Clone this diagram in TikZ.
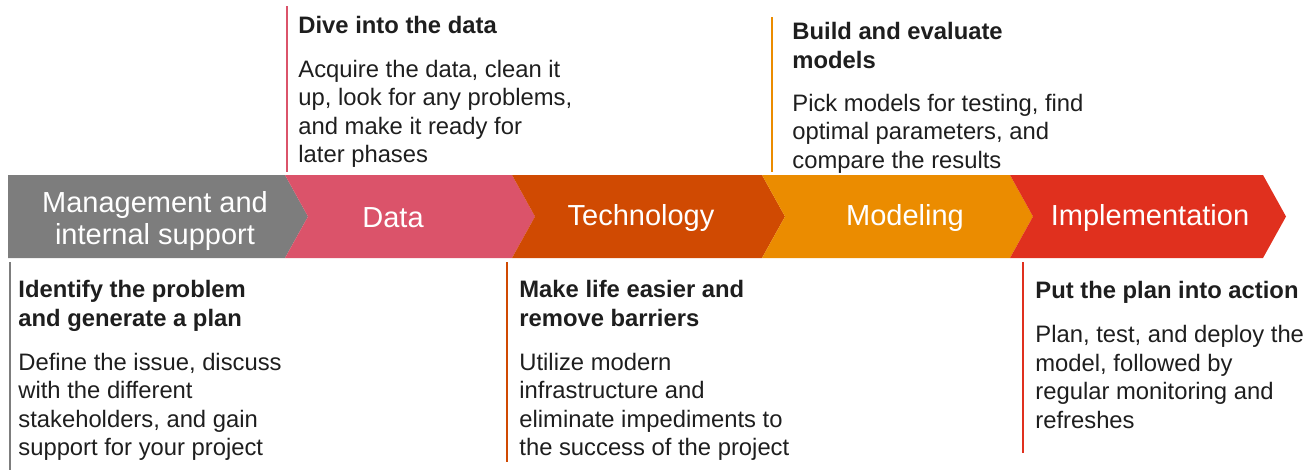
\documentclass[tikz,border=0pt]{standalone}
\usepackage{fontspec}
\setmainfont{Liberation Sans}
\usepackage{tikz}
\usepackage{xcolor}
\definecolor{mgmt}{RGB}{125,125,125}
\definecolor{data}{RGB}{219,83,106}
\definecolor{tech}{RGB}{208,74,2}
\definecolor{model}{RGB}{235,140,0}
\definecolor{impl}{RGB}{224,48,30}
\definecolor{ink}{RGB}{30,30,30}

% base of a multi-line node = baseline of its last line
\tikzset{
  band/.style={text=white,font=\fontsize{14.5}{16}\selectfont,align=center},
  head/.style={anchor=base west,inner sep=0pt,text=ink,align=left,
    font=\fontsize{11.9}{14.5}\selectfont\bfseries},
  body/.style={anchor=base west,inner sep=0pt,text=ink,align=left,
    font=\fontsize{11.9}{14.25}\selectfont},
  rule/.style={line width=0.9pt}
}

\begin{document}
\begin{tikzpicture}[x=0.5pt,y=-0.5pt]
\useasboundingbox (0,0) rectangle (1310,472);
% the chevron band
\fill[mgmt] (8,175) -- (285,175) -- (308,216.5) -- (285,258) -- (8,258) -- cycle;
\fill[data] (285,175) -- (512,175) -- (535,216.5) -- (512,258) -- (285,258) -- (308,216.5) -- cycle;
\fill[tech] (512,175) -- (762,175) -- (785,216.5) -- (762,258) -- (512,258) -- (535,216.5) -- cycle;
\fill[model] (762,175) -- (1010,175) -- (1033,216.5) -- (1010,258) -- (762,258) -- (785,216.5) -- cycle;
\fill[impl] (1010,175) -- (1263,175) -- (1286,216.5) -- (1263,258) -- (1010,258) -- (1033,216.5) -- cycle;
\node[band] (mgmt) at (155,221) {Management and\\internal support};
\node[band] (data) at (393,218) {Data};
\node[band] (tech) at (641,218) {Technology};
\node[band] (model) at (905,218) {Modeling};
\node[band] (impl) at (1150,218) {Implementation};

% management, below
\draw[rule,mgmt] (10,262) -- (10,470);
\node[head] (mgmt-head) at (18,326) {Identify the problem\\and generate a plan};
\node[body] (mgmt-body) at (18,455.5) {Define the issue, discuss\\with the different\\stakeholders, and gain\\support for your project};

% data, above
\draw[rule,data] (287,6) -- (287,172);
\node[head] (data-head) at (298,33) {Dive into the data};
\node[body] (data-body) at (298,162.5) {Acquire the data, clean it\\up, look for any problems,\\and make it ready for\\later phases};

% technology, below
\draw[rule,tech] (507,262) -- (507,462);
\node[head] (tech-head) at (519,326) {Make life easier and\\remove barriers};
\node[body] (tech-body) at (519,455.5) {Utilize modern\\infrastructure and\\eliminate impediments to\\the success of the project};

% modeling, above
\draw[rule,model] (772,17) -- (772,172);
\node[head] (model-head) at (792,68) {Build and evaluate\\models};
\node[body] (model-body) at (792,168) {Pick models for testing, find\\optimal parameters, and\\compare the results};

% implementation, below
\draw[rule,impl] (1023,262) -- (1023,453);
\node[head] (impl-head) at (1035,298) {Put the plan into action};
\node[body] (impl-body) at (1035,428) {Plan, test, and deploy the\\model, followed by\\regular monitoring and\\refreshes};
\end{tikzpicture}
\end{document}
